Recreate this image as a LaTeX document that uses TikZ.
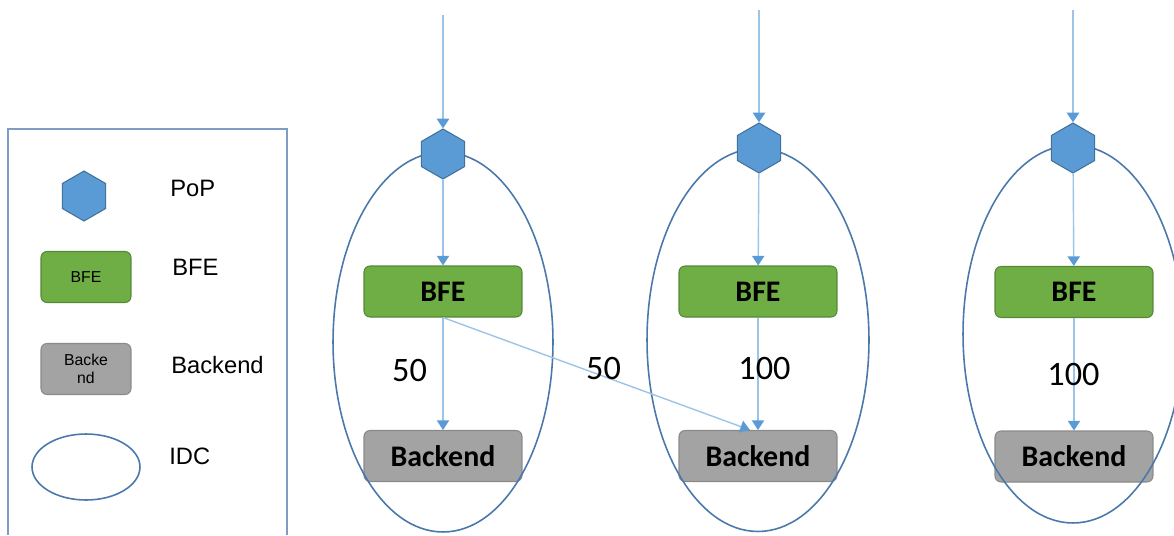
\documentclass[tikz,border=0pt]{standalone}
\usepackage{fontspec}
\setmainfont{Carlito}
\newfontfamily\arialfont{Liberation Sans}
\usetikzlibrary{arrows.meta,%
                shapes.geometric}

\definecolor{popfill}{HTML}{5B9BD5}
\definecolor{popdraw}{HTML}{41719C}
\definecolor{bfefill}{HTML}{6FAD45}
\definecolor{bfedraw}{HTML}{548A35}
\definecolor{backfill}{HTML}{A3A3A3}
\definecolor{backdraw}{HTML}{8A8A8A}
\definecolor{idcdraw}{HTML}{4A78AA}
\definecolor{flowline}{HTML}{9DC3E6}
\definecolor{flowtip}{HTML}{5B9BD5}
\definecolor{legdraw}{HTML}{7F9CC4}

\begin{document}
\begin{tikzpicture}[x=0.02cm, y=-0.02cm,
  pop/.style={regular polygon, regular polygon sides=6, shape border rotate=30,
              minimum size=1cm, inner sep=0pt, fill=popfill, draw=popdraw, line width=0.6pt},
  bfe/.style={rectangle, rounded corners=0.12cm, minimum width=3.16cm, minimum height=1.02cm,
              inner sep=0pt, fill=bfefill, draw=bfedraw, line width=0.6pt,
              font=\fontsize{17}{19}\selectfont\bfseries},
  back/.style={bfe, fill=backfill, draw=backdraw},
  idc/.style={ellipse, inner sep=0pt, draw=idcdraw, line width=0.9pt},
  flow/.style={draw=flowline, line width=0.8pt,
               -{Triangle[width=7pt, length=5.5pt, color=flowtip]}},
  weight/.style={inner sep=0pt, font=\fontsize{19.5}{22}\selectfont},
  legtext/.style={anchor=west, inner sep=0pt, font=\arialfont\fontsize{13.5}{15}\selectfont},
  legsmall/.style={minimum width=1.8cm, minimum height=1.02cm, align=center,
                   font=\arialfont\fontsize{9}{10}\selectfont\mdseries}]

\clip (0,0) rectangle (1174,535);

\draw[legdraw, line width=0.9pt] (8,535) -- (8,129) -- (287,129) -- (287,535);

\node[pop] (LegPopx) at (84,196) {};
\node[legtext] (LegPopTx) at (170,188) {PoP};
\node[bfe, legsmall] (LegBfex) at (86,277) {BFE};
\node[legtext] (LegBfeTx) at (172,267) {BFE};
\node[back, legsmall] (LegBackx) at (86,369) {Backe\\nd};
\node[legtext] (LegBackTx) at (171,365) {Backend};
\node[idc, minimum width=2.16cm, minimum height=1.32cm] (LegIdcx) at (86,467) {};
\node[legtext] (LegIdcTx) at (169,456) {IDC};

\node[bfe] (Bfe1x) at (443,291.5) {BFE};
\node[back] (Back1x) at (443,456) {Backend};
\node[idc, minimum width=4.4cm, minimum height=7.6cm] (Idc1x) at (443,342) {};
\node[pop] (Pop1x) at (443,154) {};
\coordinate (In1x) at (443,15);

\node[bfe] (Bfe2x) at (758,291.5) {BFE};
\node[back] (Back2x) at (758,456) {Backend};
\node[idc, minimum width=4.44cm, minimum height=7.66cm] (Idc2x) at (758,340) {};
\node[pop] (Pop2x) at (759,148) {};
\coordinate (In2x) at (759,10);

\node[bfe] (Bfe3x) at (1074,292) {BFE};
\node[back] (Back3x) at (1074,456.5) {Backend};
\node[idc, minimum width=4.4cm, minimum height=7.56cm] (Idc3x) at (1073,334) {};
\node[pop] (Pop3x) at (1073,148) {};
\coordinate (In3x) at (1073,10);

\draw[flow] (In1x) -- (Pop1x);
\draw[flow] (Pop1x) -- (Bfe1x);
\draw[flow] (Bfe1x) -- (Back1x);
\draw[flow] (Bfe1x.south) -- ([xshift=-0.16cm]Back2x.north);

\draw[flow] (In2x) -- (Pop2x);
\draw[flow] (Pop2x) -- (Bfe2x);
\draw[flow] (Bfe2x) -- (Back2x);

\draw[flow] (In3x) -- (Pop3x);
\draw[flow] (Pop3x) -- (Bfe3x);
\draw[flow] (Bfe3x) -- (Back3x);

\node[weight] (W1x) at (409.5,370) {50};
\node[weight] (W12x) at (603.5,368) {50};
\node[weight] (W2x) at (764.5,368) {100};
\node[weight] (W3x) at (1073.5,374) {100};

\end{tikzpicture}
\end{document}
